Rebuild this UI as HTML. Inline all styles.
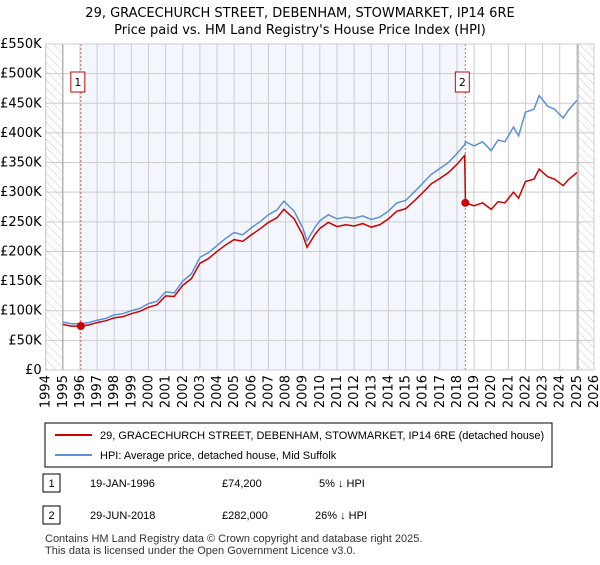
<!DOCTYPE html>
<html><head><meta charset="utf-8"><style>
body{margin:0;background:#fff;font-family:"Liberation Sans",sans-serif;}
svg text{font-family:"Liberation Sans",sans-serif;}
svg text.dv{font-family:"DejaVu Sans",sans-serif;}
</style></head><body>
<svg id="c" width="600" height="560" xmlns="http://www.w3.org/2000/svg">
<defs><pattern id="hatch" width="6" height="6" patternUnits="userSpaceOnUse" patternTransform="rotate(-45)"><line x1="0" y1="0" x2="0" y2="6" stroke="#ccc" stroke-width="1"/></pattern></defs>
<text class="dv" x="300" y="17" text-anchor="middle" font-size="13">29, GRACECHURCH STREET, DEBENHAM, STOWMARKET, IP14 6RE</text>
<text class="dv" x="300" y="34" text-anchor="middle" font-size="13">Price paid vs. HM Land Registry's House Price Index (HPI)</text>
<g id="plot"></g>
<rect x="45" y="423" width="507" height="44" fill="#fff" stroke="#000"/>
<line x1="55" y1="435" x2="92" y2="435" stroke="#cc0000" stroke-width="2"/>
<text x="100" y="439" font-size="11">29, GRACECHURCH STREET, DEBENHAM, STOWMARKET, IP14 6RE (detached house)</text>
<line x1="55" y1="455" x2="92" y2="455" stroke="#5b8fd6" stroke-width="2"/>
<text x="100" y="459" font-size="11">HPI: Average price, detached house, Mid Suffolk</text>
<rect x="43" y="474" width="17" height="18" fill="#fff" stroke="#000"/>
<text x="51.5" y="487" text-anchor="middle" font-size="11">1</text>
<text x="90" y="487" font-size="11">19-JAN-1996</text>
<text x="222" y="487" font-size="11">£74,200</text>
<text x="319" y="487" font-size="11">5% ↓ HPI</text>
<rect x="43" y="506" width="17" height="18" fill="#fff" stroke="#000"/>
<text x="51.5" y="519" text-anchor="middle" font-size="11">2</text>
<text x="90" y="519" font-size="11">29-JUN-2018</text>
<text x="222" y="519" font-size="11">£282,000</text>
<text x="315" y="519" font-size="11">26% ↓ HPI</text>
<text x="45" y="542" font-size="11" fill="#333">Contains HM Land Registry data © Crown copyright and database right 2025.</text>
<text x="45" y="554" font-size="11" fill="#333">This data is licensed under the Open Government Licence v3.0.</text>
</svg>
<script>
const hpiYears=[1995,1995.5,1996,1996.5,1997,1997.5,1998,1998.5,1999,1999.5,2000,2000.5,2001,2001.5,2002,2002.5,2003,2003.5,2004,2004.5,2005,2005.5,2006,2006.5,2007,2007.5,2007.9,2008.5,2009,2009.25,2009.7,2010,2010.5,2011,2011.5,2012,2012.5,2013,2013.5,2014,2014.5,2015,2015.5,2016,2016.5,2017,2017.5,2018,2018.45,2018.5,2019,2019.5,2020,2020.4,2020.8,2021.3,2021.6,2022,2022.5,2022.8,2023.3,2023.7,2024.2,2024.5,2025];
const hpiValues=[81,78,78,80,84,87,93,95,100,104,112,116,132,130,150,162,190,198,210,222,232,228,240,250,262,270,285,268,240,218,240,252,262,255,258,256,260,254,258,268,282,286,300,315,330,340,350,365,380,385,378,385,370,388,385,410,395,435,440,463,445,440,425,438,455];
const priceYears=[1995,1995.5,1996,1996.5,1997,1997.5,1998,1998.5,1999,1999.5,2000,2000.5,2001,2001.5,2002,2002.5,2003,2003.5,2004,2004.5,2005,2005.5,2006,2006.5,2007,2007.5,2007.9,2008.5,2009,2009.25,2009.7,2010,2010.5,2011,2011.5,2012,2012.5,2013,2013.5,2014,2014.5,2015,2015.5,2016,2016.5,2017,2017.5,2018,2018.45,2018.5,2019,2019.5,2020,2020.4,2020.8,2021.3,2021.6,2022,2022.5,2022.8,2023.3,2023.7,2024.2,2024.5,2025];
const priceValues=[77,74,74,76,80,83,88,90,95,99,106,110,125,124,143,154,180,188,200,211,220,217,228,238,249,257,271,255,228,207,228,239,249,242,245,243,247,241,245,255,268,272,285,299,314,323,333,347,362,282,277,282,271,284,282,300,290,318,322,339,326,322,311,321,333];
const saleYears=[1996.05,2018.49];
const saleValues=[74.2,282];
const saleLabels=["1","2"];
const yTicks=[0,50,100,150,200,250,300,350,400,450,500,550];
const xTicks=[1994,1995,1996,1997,1998,1999,2000,2001,2002,2003,2004,2005,2006,2007,2008,2009,2010,2011,2012,2013,2014,2015,2016,2017,2018,2019,2020,2021,2022,2023,2024,2025,2026];
const L=45.7,R=594,T=44,B=370;
const X=y=>L+(y-1994)/32*(R-L);
const Y=v=>B-v/550*(B-T);
const g=document.getElementById('plot');
const NS='http://www.w3.org/2000/svg';
function mk(t,a,p){const e=document.createElementNS(NS,t);for(const k in a)e.setAttribute(k,a[k]);(p||g).appendChild(e);return e;}
let e;
e=mk('rect',{x:L,y:T,width:R-L,height:B-T,fill:'#fff'});


e=mk('rect',{x:X(saleYears[0]),y:T,width:X(saleYears[1])-X(saleYears[0]),height:B-T,fill:'#eef3fc',opacity:0.7});


e=mk('rect',{x:L,y:T,width:X(1995)-L,height:B-T,fill:'url(#hatch)'});


e=mk('rect',{x:X(2025.07),y:T,width:R-X(2025.07),height:B-T,fill:'url(#hatch)'});


yTicks.forEach(v=>{
 e=mk('line',{x1:L,x2:R,y1:Y(v),y2:Y(v),stroke:'#ccc'});
 
 
 e=mk('text',{x:L-4,y:Y(v)+4,'text-anchor':'end','font-size':13,'class':'dv'});
 e.textContent=v===0?'£0':'£'+v+'K';
 
 
});
xTicks.forEach(yr=>{
 e=mk('line',{x1:X(yr),x2:X(yr),y1:T,y2:B,stroke:'#ccc'});
 
 
 e=mk('text',{x:X(yr)+4,y:B+5,'text-anchor':'end','font-size':13,'class':'dv',transform:`rotate(-90 ${X(yr)+4} ${B+5})`});
 e.textContent=yr;
 
 
});
e=mk('line',{x1:X(1995),x2:X(1995),y1:T,y2:B,stroke:'#999'});


e=mk('line',{x1:X(2025.07),x2:X(2025.07),y1:T,y2:B,stroke:'#999'});


saleYears.forEach((yr,i)=>{
 e=mk('line',{x1:X(yr),x2:X(yr),y1:T,y2:B,stroke:'#e06060','stroke-dasharray':'2,2'});
 
 
 e=mk('rect',{x:X(yr)-10,y:72,width:14,height:20,fill:'#fff',stroke:'#cc0000'});
 
 
 e=mk('text',{x:X(yr)-3,y:86,'text-anchor':'middle','font-size':11,'class':'dv'});
 e.textContent=saleLabels[i];
 
 
});
e=mk('polyline',{points:hpiYears.map((y,i)=>X(y)+','+Y(hpiValues[i])).join(' '),fill:'none',stroke:'#5b8fd6','stroke-width':1.5});


e=mk('polyline',{points:priceYears.map((y,i)=>X(y)+','+Y(priceValues[i])).join(' '),fill:'none',stroke:'#cc0000','stroke-width':1.5});


saleYears.forEach((yr,i)=>{
 e=mk('circle',{cx:X(yr),cy:Y(saleValues[i]),r:4,fill:'#cc0000'});
 
 
});
e=mk('rect',{x:L,y:T,width:R-L,height:B-T,fill:'none',stroke:'#ccc'});


</script>
</body></html>
